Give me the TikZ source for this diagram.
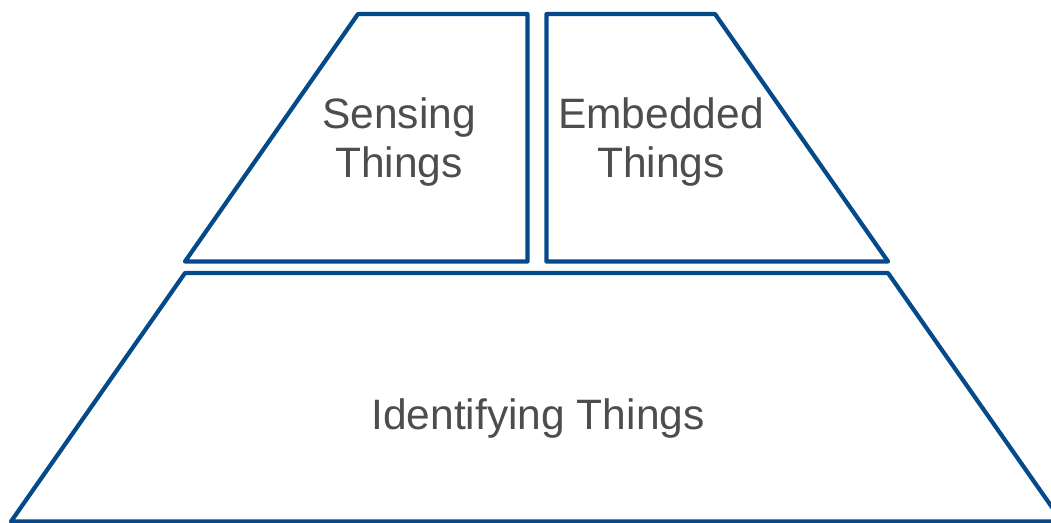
\documentclass[tikz,border=0pt]{standalone}
\usepackage{fontspec}
\setmainfont{Liberation Sans}
\definecolor{pyrblue}{RGB}{4, 74, 138}
\definecolor{pyrgray}{RGB}{77, 77, 77}

\begin{document}
\begin{tikzpicture}[x=0.02cm, y=-0.02cm,
                    level/.style={draw=pyrblue, line width=2.4pt, line join=round},
                    label/.style={text=pyrgray, inner sep=0pt, align=center,
                                  font=\fontsize{24.2}{28.45}\selectfont}]
                    \clip (0,0) rectangle (1051,522);
                    % pyramid levels
                    \draw[level] (185,273) -- (888,273) -- (1062,521.5) -- (11,521.5) -- cycle;
                    \draw[level] (358,14) -- (527.5,14) -- (527.5,261.5) -- (185,261.5) -- cycle;
                    \draw[level] (546.5,14) -- (715,14) -- (888,261.5) -- (546.5,261.5) -- cycle;

                    \node[label] (sensing) at (399,142) {Sensing\\Things};
                    \node[label] (embedded) at (661,142) {Embedded\\Things};
                    \node[label] (identifying) at (538,418) {Identifying Things};
                \end{tikzpicture}
\end{document}
